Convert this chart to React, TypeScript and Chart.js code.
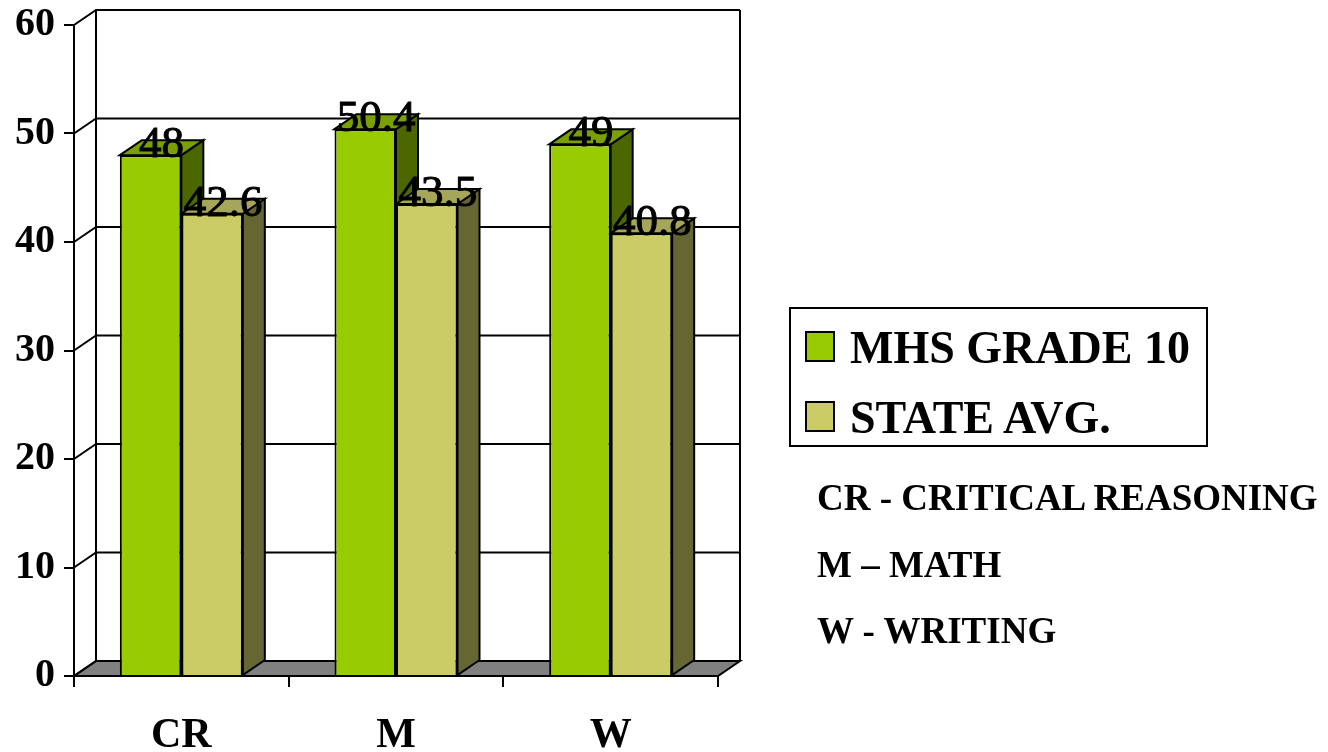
import React, { useEffect, useRef } from "react";
import { Chart, registerables } from "chart.js";

Chart.register(...registerables);

const categories = ["CR", "M", "W"];
const seriesLabels = ["MHS GRADE 10", "STATE AVG."];
const mhsValues = [48, 50.4, 49];
const stateValues = [42.6, 43.5, 40.8];
const notes = ["CR - CRITICAL REASONING", "M – MATH", "W - WRITING"];

const frontColors = ["#99CC00", "#CCCC66"];
const topColors = ["#7A9F00", "#A6A65A"];
const sideColors = ["#4C6600", "#666633"];

const SERIF = '"Liberation Serif", "Times New Roman", serif';
const DX = 22;
const DY = 15;
const LW = 2;

const threeD = {
  id: "threeD",
  beforeDatasetsDraw(chart: any) {
    const { ctx, chartArea: a, scales } = chart;
    const y = scales.y;
    ctx.save();
    ctx.strokeStyle = "#000";
    ctx.lineWidth = LW;
    ctx.lineJoin = "miter";
    // floor
    ctx.beginPath();
    ctx.moveTo(a.left, a.bottom);
    ctx.lineTo(a.right, a.bottom);
    ctx.lineTo(a.right + DX, a.bottom - DY);
    ctx.lineTo(a.left + DX, a.bottom - DY);
    ctx.closePath();
    ctx.fillStyle = "#808080";
    ctx.fill();
    ctx.stroke();
    // walls
    ctx.beginPath();
    ctx.moveTo(a.left + DX, a.bottom - DY);
    ctx.lineTo(a.left + DX, a.top - DY);
    ctx.moveTo(a.right + DX, a.bottom - DY);
    ctx.lineTo(a.right + DX, a.top - DY);
    ctx.stroke();
    // gridlines
    y.ticks.forEach((_t: any, i: number) => {
      const py = y.getPixelForTick(i);
      ctx.beginPath();
      ctx.moveTo(a.left, py);
      ctx.lineTo(a.left + DX, py - DY);
      if (i > 0) ctx.lineTo(a.right + DX, py - DY);
      ctx.stroke();
    });
    // 3D faces of bars
    const n = chart.data.labels.length;
    for (let i = 0; i < n; i++) {
      chart.data.datasets.forEach((_d: any, di: number) => {
        const meta = chart.getDatasetMeta(di);
        const el = meta.data[i];
        if (!el) return;
        const { x, y: top, base, width } = el.getProps(["x", "y", "base", "width"], true);
        const l = x - width / 2;
        const r = x + width / 2;
        ctx.lineWidth = LW;
        ctx.strokeStyle = "#000";
        ctx.beginPath();
        ctx.moveTo(r, top);
        ctx.lineTo(r + DX, top - DY);
        ctx.lineTo(r + DX, base - DY);
        ctx.lineTo(r, base);
        ctx.closePath();
        ctx.fillStyle = sideColors[di];
        ctx.fill();
        ctx.stroke();
        ctx.beginPath();
        ctx.moveTo(l, top);
        ctx.lineTo(l + DX, top - DY);
        ctx.lineTo(r + DX, top - DY);
        ctx.lineTo(r, top);
        ctx.closePath();
        ctx.fillStyle = topColors[di];
        ctx.fill();
        ctx.stroke();
      });
    }
    ctx.restore();
  },
  afterDatasetsDraw(chart: any) {
    const { ctx } = chart;
    ctx.save();
    ctx.font = `45px ${SERIF}`;
    ctx.fillStyle = "#000";
    ctx.strokeStyle = "#000";
    ctx.lineWidth = 1;
    ctx.textAlign = "center";
    ctx.textBaseline = "alphabetic";
    chart.data.datasets.forEach((d: any, di: number) => {
      const meta = chart.getDatasetMeta(di);
      meta.data.forEach((el: any, i: number) => {
        const { x, y } = el.getProps(["x", "y"], true);
        const t = String(d.data[i]);
        ctx.fillText(t, x + DX / 2, y + 2);
        ctx.strokeText(t, x + DX / 2, y + 2);
      });
    });
    ctx.restore();
  },
};

export default function App() {
  const ref = useRef<HTMLCanvasElement | null>(null);
  useEffect(() => {
    if (!ref.current) return;
    const chart = new Chart(ref.current, {
      type: "bar",
      data: {
        labels: categories,
        datasets: [
          {
            label: seriesLabels[0],
            data: mhsValues,
            backgroundColor: frontColors[0],
            borderColor: "#000",
            borderWidth: LW,
          },
          {
            label: seriesLabels[1],
            data: stateValues,
            backgroundColor: frontColors[1],
            borderColor: "#000",
            borderWidth: LW,
          },
        ],
      },
      options: {
        animation: false,
        responsive: false,
        devicePixelRatio: 1,
        layout: { autoPadding: false, padding: { top: 25, right: 610, left: 0, bottom: 0 } },
        datasets: { bar: { categoryPercentage: 0.573, barPercentage: 1 } },
        plugins: { legend: { display: false }, tooltip: { enabled: false } },
        scales: {
          x: {
            afterFit: (s: any) => {
              s.height = 76;
            },
            grid: {
              display: true,
              drawOnChartArea: false,
              drawTicks: true,
              tickLength: 11,
              color: "#000",
              lineWidth: LW,
              offset: true,
            },
            border: { display: true, color: "#000", width: LW },
            ticks: {
              color: "#000",
              padding: 24,
              font: { family: SERIF, size: 42, weight: "bold" },
            },
          },
          y: {
            min: 0,
            max: 60,
            afterFit: (s: any) => {
              s.width = 74;
              s.paddingTop = 0;
              s.paddingBottom = 0;
            },
            grid: {
              display: true,
              drawOnChartArea: false,
              drawTicks: true,
              tickLength: 10,
              color: "#000",
              lineWidth: LW,
            },
            border: { display: true, color: "#000", width: LW },
            ticks: {
              stepSize: 10,
              color: "#000",
              padding: 9,
              font: { family: SERIF, size: 40, weight: "bold", lineHeight: 1 },
            },
          },
        },
      } as any,
      plugins: [threeD],
    });
    return () => chart.destroy();
  }, []);

  const legendRowTops = [325, 395];
  const noteTops = [479, 546, 612];

  return (
    <div style={{ position: "absolute", left: 0, top: 0, width: 1328, height: 752, background: "#fff", fontFamily: SERIF }}>
      <canvas ref={ref} width={1328} height={752} style={{ position: "absolute", left: 0, top: 0, width: 1328, height: 752 }} />
      <div
        style={{
          position: "absolute",
          left: 789,
          top: 307,
          width: 419,
          height: 140,
          boxSizing: "border-box",
          border: "2px solid #000",
        }}
      />
      {seriesLabels.map((s, i) => (
        <React.Fragment key={s}>
          <div
            style={{
              position: "absolute",
              left: 805,
              top: legendRowTops[i] + 6,
              width: 30,
              height: 31,
              boxSizing: "border-box",
              border: "2px solid #000",
              background: frontColors[i],
            }}
          />
          <div
            style={{
              position: "absolute",
              left: 850,
              top: legendRowTops[i],
              fontSize: 46,
              lineHeight: "46px",
              fontWeight: "bold",
              whiteSpace: "nowrap",
              color: "#000",
            }}
          >
            {s}
          </div>
        </React.Fragment>
      ))}
      {notes.map((n, i) => (
        <div
          key={n}
          style={{
            position: "absolute",
            left: 817,
            top: noteTops[i],
            fontSize: 37,
            lineHeight: "37px",
            fontWeight: "bold",
            whiteSpace: "nowrap",
            color: "#000",
          }}
        >
          {n}
        </div>
      ))}
    </div>
  );
}
